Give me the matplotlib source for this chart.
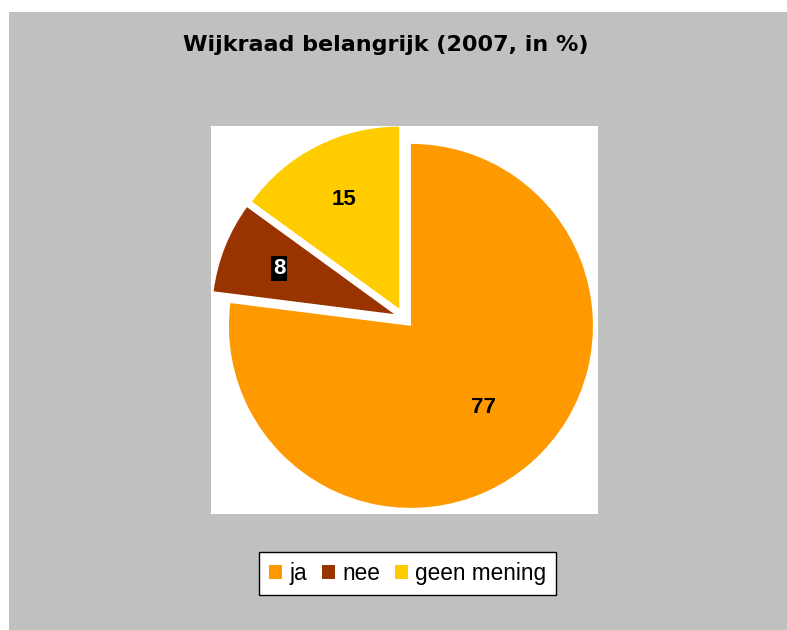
import numpy as np
import matplotlib.pyplot as plt
from matplotlib.patches import Rectangle, Patch

# data
labels = ['ja', 'nee', 'geen mening']
values = [77, 8, 15]
colors = ['#FF9900', '#993300', '#FFCC00']
title = 'Wijkraad belangrijk (2007, in %)'
label_dist = [0.6, 0.68, 0.67]

fig = plt.figure(figsize=(7.87, 6.3), dpi=100)
fig.patch.set_facecolor('white')

# grey chart area
fig.patches.append(Rectangle((9 / 787, 0), 1, 1 - 12 / 630, transform=fig.transFigure,
                             facecolor='#C0C0C0', edgecolor='none', zorder=-5))

# plot area (pixel-like data coordinates, y up)
ax = fig.add_axes([211 / 787, 116 / 630, 387 / 787, 388 / 630])
ax.set_zorder(2)
wedges, texts, autotexts = ax.pie(
    values, explode=[10.5] * 3, center=(404, 312), radius=182,
    startangle=90, counterclock=False, colors=colors,
    autopct=lambda p: f'{p:.0f}', pctdistance=0.62,
    textprops=dict(family='Liberation Sans', fontweight='bold', fontsize=16))
ax.set_xlim(211, 598)
ax.set_ylim(116, 504)
ax.set_frame_on(True)
ax.set_facecolor('white')
for s in ax.spines.values():
    s.set_visible(False)

# move value labels a bit along each wedge's bisector
for w, t, d in zip(wedges, autotexts, label_dist):
    mid = np.deg2rad((w.theta1 + w.theta2) / 2)
    cx, cy = w.center
    t.set_position((cx + d * w.r * np.cos(mid), cy + d * w.r * np.sin(mid)))

autotexts[1].set_color('white')
autotexts[1].set_bbox(dict(boxstyle='square,pad=0.08', facecolor='black', edgecolor='none'))

fig.text(386 / 787, 1 - 45 / 630, title, ha='center', va='center',
         family='DejaVu Sans', fontweight='bold', fontsize=16)

handles = [Patch(facecolor=c, edgecolor='none') for c in colors]
leg = fig.legend(handles, labels, loc='center', bbox_to_anchor=(407.5 / 787, 56.5 / 630),
                 ncol=3, frameon=True, fancybox=False, shadow=False,
                 prop=dict(family='Liberation Sans', size=16.3),
                 handlelength=0.6, handleheight=0.6, handletextpad=0.3,
                 columnspacing=0.65, borderpad=0.45, borderaxespad=0)
leg.get_frame().set_edgecolor('black')
leg.get_frame().set_linewidth(1)
leg.get_frame().set_facecolor('white')
leg.get_frame().set_alpha(1)

fig.savefig('out.png', dpi=100, facecolor=fig.get_facecolor())
